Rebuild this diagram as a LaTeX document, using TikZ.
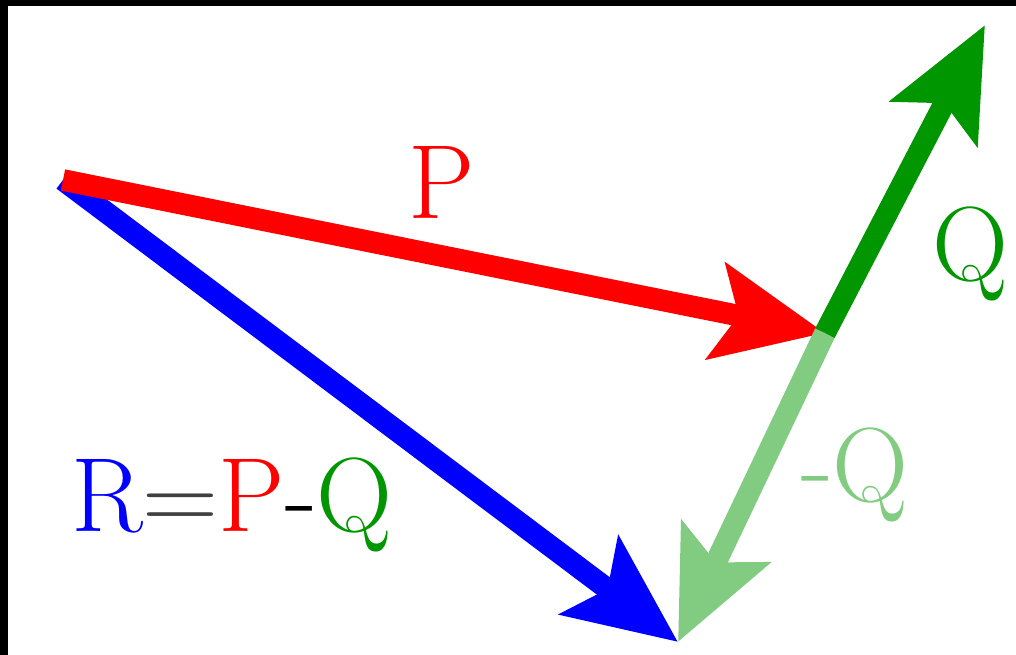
\documentclass[tikz,border=0pt]{standalone}
\usepackage{fontspec}
\usetikzlibrary{arrows.meta}
\definecolor{qgreen}{RGB}{0,150,0}
\definecolor{qlight}{RGB}{130,204,130}
\begin{document}
\begin{tikzpicture}[x=0.025cm, y=-0.025cm, line join=miter,
  vec/.style={line width=0.54cm, -{Stealth[length=2.75cm, width=2.4cm, inset=0.55cm]}},
  lbl/.style={anchor=base, inner sep=0pt, font=\fontsize{75}{90}\selectfont}]
% 1. Frame of the picture
\useasboundingbox (0,0) rectangle (1016,655);
\fill[white] (0,0) rectangle (1016,655);
\fill[black] (0,0) rectangle (1016,6);
\fill[black] (0,0) rectangle (8,655);

% Points of the triangle
\coordinate (A) at (63,180);    % common tail of P and R
\coordinate (B) at (825,333);   % head of P, tail of Q and -Q
\coordinate (C) at (985,25);    % head of Q
\coordinate (D) at (678,642);   % head of -Q and R

% 2. Vectors
\draw[vec, blue] (A) -- (D);
\draw[vec, red] (A) -- (B);
\draw[vec, qlight] (B) -- (D);
\draw[vec, qgreen] (B) -- (C);

% 3. Labels
\node[lbl, red] (lP) at (442,219) {P};
\node[lbl, qgreen] (lQ) at (970,281) {Q};
\node[lbl, qlight] (lmQ) at (855,501) {-Q};
\node[lbl] (lR) at (232,531) {\textcolor{blue}{R}\textcolor{black!75}{=}\textcolor{red}{P}-\textcolor{qgreen}{Q}};
\end{tikzpicture}
\end{document}
